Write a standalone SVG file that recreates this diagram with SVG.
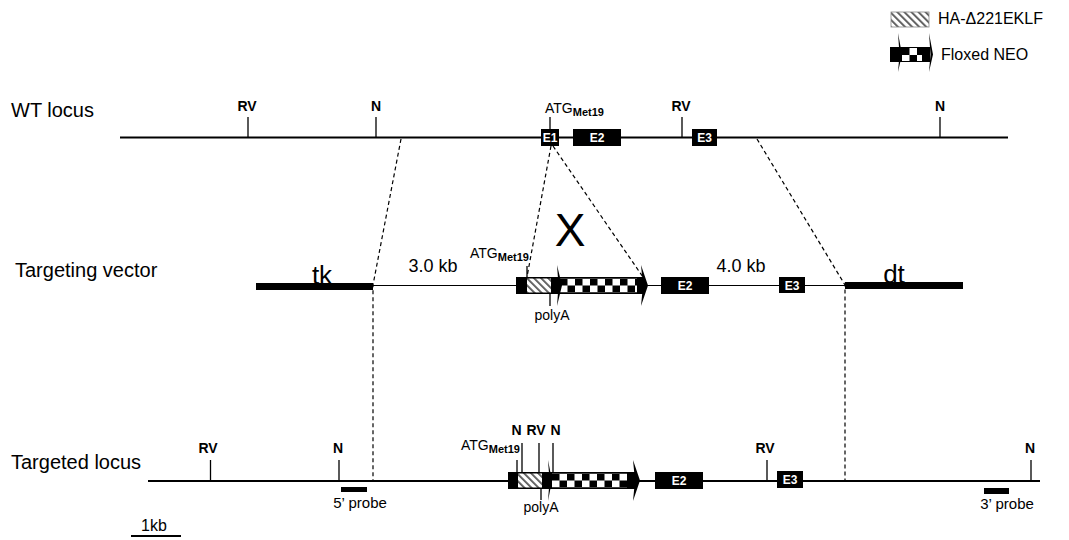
<svg xmlns="http://www.w3.org/2000/svg" width="1069" height="540" viewBox="0 0 1069 540">
<style>
.lbl{font-family:"Liberation Sans",Arial,sans-serif;fill:#000}
.big{font-size:20px}
.site{font-size:14px;font-weight:bold;text-anchor:middle}
.ex{font-size:12px;font-weight:bold;fill:#fff;text-anchor:middle}
.sm{font-size:14px}
.pr{font-size:15px;text-anchor:middle}
.sub{font-size:11px;font-weight:bold}
.tick{stroke:#000;stroke-width:1.3}
.dash{stroke:#000;stroke-width:1.2;stroke-dasharray:4,3;fill:none}
.blk{fill:#000}
</style>
<defs>
<pattern id="hatch" patternUnits="userSpaceOnUse" width="5" height="5" patternTransform="rotate(-45)">
<rect width="5" height="5" fill="#fff"/>
<rect width="1.8" height="5" fill="#555"/>
</pattern>
<pattern id="chk" patternUnits="userSpaceOnUse" width="15" height="14">
<rect width="15" height="14" fill="#fff"/>
<rect x="0" y="0" width="7.5" height="7" fill="#000"/>
<rect x="7.5" y="7" width="7.5" height="7" fill="#000"/>
</pattern>
</defs>

<g id="legend">
<rect x="891" y="12" width="38" height="15" fill="url(#hatch)" stroke="#888" stroke-width="0.8"/>
<text class="lbl" x="938" y="24" font-size="16">HA-Δ221EKLF</text>
<rect x="890" y="47" width="40" height="15" class="blk"/>
<g transform="translate(902,48)"><rect width="20" height="13" fill="url(#chk)"/></g>
<path d="M898,33 L902,54.5 L898,72 L899.5,54.5 Z" class="blk"/>
<path d="M929,33 L933,54.5 L929,72 L930.5,54.5 Z" class="blk"/>
<text class="lbl" x="941" y="60" font-size="16">Floxed NEO</text>
</g>

<g id="connectors">
<path class="dash" d="M401,139 L373,285 L373,482"/>
<path class="dash" d="M757,139 L845,285 L845,482"/>
<path class="dash" d="M551,146 L527,277"/>
<path class="dash" d="M553,146 L645,280"/>
</g>

<g id="wt-locus">
<text class="lbl big" x="11" y="117">WT locus</text>
<line x1="120" y1="137.5" x2="1008" y2="137.5" stroke="#000" stroke-width="2"/>
<line class="tick" x1="248" y1="117" x2="248" y2="137"/>
<text class="lbl site" x="247" y="111">RV</text>
<line class="tick" x1="376" y1="117" x2="376" y2="137"/>
<text class="lbl site" x="376" y="111">N</text>
<line class="tick" x1="550" y1="117" x2="550" y2="129"/>
<text class="lbl sm" x="545" y="113">ATG<tspan class="sub" dy="3">Met19</tspan></text>
<rect x="541" y="129" width="18" height="17" class="blk"/>
<text class="lbl ex" x="550" y="142">E1</text>
<rect x="573" y="129" width="48" height="17" class="blk"/>
<text class="lbl ex" x="597" y="142">E2</text>
<line class="tick" x1="682" y1="117" x2="682" y2="137"/>
<text class="lbl site" x="681" y="111">RV</text>
<rect x="692" y="129" width="25" height="17" class="blk"/>
<text class="lbl ex" x="704.5" y="142">E3</text>
<line class="tick" x1="940" y1="117" x2="940" y2="137"/>
<text class="lbl site" x="940" y="111">N</text>
</g>

<g id="targeting-vector">
<text class="lbl big" x="15" y="277">Targeting vector</text>
<text class="lbl" x="570" y="246" font-size="46" text-anchor="middle">X</text>
<line x1="373" y1="285.5" x2="845" y2="285.5" stroke="#000" stroke-width="1.2"/>
<rect x="256" y="283" width="117" height="7" class="blk"/>
<text class="lbl" x="322" y="284" font-size="26" text-anchor="middle">tk</text>
<text class="lbl" x="433" y="272" font-size="18" text-anchor="middle">3.0 kb</text>
<rect x="845" y="282" width="118" height="7" class="blk"/>
<text class="lbl" x="894" y="283" font-size="26" text-anchor="middle">dt</text>
<text class="lbl sm" x="470" y="258">ATG<tspan class="sub" dy="3">Met19</tspan></text>
<line class="tick" x1="527" y1="266" x2="527" y2="277"/>
<rect x="516" y="277" width="129" height="17" class="blk"/>
<rect x="527" y="278.5" width="24" height="14" fill="url(#hatch)"/>
<g transform="translate(560,278.5)"><rect width="77" height="14" fill="url(#chk)"/></g>
<path d="M557,265 L562,285.5 L557,306 L558.5,285.5 Z" class="blk"/>
<path d="M641,265 L648,285.5 L641,306 L643,285.5 Z" class="blk"/>
<line class="tick" x1="550" y1="294" x2="550" y2="306"/>
<text class="lbl sm" x="552" y="320" text-anchor="middle">polyA</text>
<rect x="661" y="277" width="48" height="17" class="blk"/>
<text class="lbl ex" x="685" y="290">E2</text>
<text class="lbl" x="741" y="272" font-size="18" text-anchor="middle">4.0 kb</text>
<rect x="779" y="277" width="26" height="16" class="blk"/>
<text class="lbl ex" x="792" y="289.5">E3</text>
</g>

<g id="targeted-locus">
<text class="lbl big" x="11" y="469">Targeted locus</text>
<line x1="148" y1="481" x2="1040" y2="481" stroke="#000" stroke-width="2"/>
<line class="tick" x1="210.5" y1="460" x2="210.5" y2="481"/>
<text class="lbl site" x="208" y="453">RV</text>
<line class="tick" x1="339" y1="460" x2="339" y2="481"/>
<text class="lbl site" x="338" y="453">N</text>
<rect x="341" y="487" width="26" height="5" class="blk"/>
<text class="lbl pr" x="360" y="508">5’ probe</text>
<text class="lbl sm" x="461" y="450">ATG<tspan class="sub" dy="3">Met19</tspan></text>
<line class="tick" x1="517" y1="460" x2="517" y2="472"/>
<line class="tick" x1="522" y1="443" x2="522" y2="472"/>
<line class="tick" x1="539" y1="443" x2="539" y2="472"/>
<line class="tick" x1="553" y1="443" x2="553" y2="472"/>
<text class="lbl site" x="516.5" y="435">N</text>
<text class="lbl site" x="536" y="435">RV</text>
<text class="lbl site" x="555.5" y="435">N</text>
<rect x="508" y="472" width="128" height="17" class="blk"/>
<rect x="518" y="473.5" width="24" height="14" fill="url(#hatch)"/>
<g transform="translate(552,473.5)"><rect width="75" height="14" fill="url(#chk)"/></g>
<path d="M548,460 L552,480.5 L548,501 L549.5,480.5 Z" class="blk"/>
<path d="M633,460 L640,480.5 L633,501 L635,480.5 Z" class="blk"/>
<line class="tick" x1="541" y1="489" x2="541" y2="500"/>
<text class="lbl sm" x="541" y="512" text-anchor="middle">polyA</text>
<rect x="655" y="472" width="48" height="17" class="blk"/>
<text class="lbl ex" x="679" y="485">E2</text>
<line class="tick" x1="767" y1="460" x2="767" y2="481"/>
<text class="lbl site" x="765" y="453">RV</text>
<rect x="777" y="471" width="26" height="17" class="blk"/>
<text class="lbl ex" x="790" y="484">E3</text>
<line class="tick" x1="1031" y1="460" x2="1031" y2="481"/>
<text class="lbl site" x="1030" y="453">N</text>
<rect x="984" y="488" width="25" height="6" class="blk"/>
<text class="lbl pr" x="1007" y="509">3’ probe</text>
</g>

<g id="scale">
<line x1="131" y1="536" x2="181" y2="536" stroke="#000" stroke-width="2"/>
<text class="lbl" x="154" y="531" font-size="16" text-anchor="middle">1kb</text>
</g>
</svg>
